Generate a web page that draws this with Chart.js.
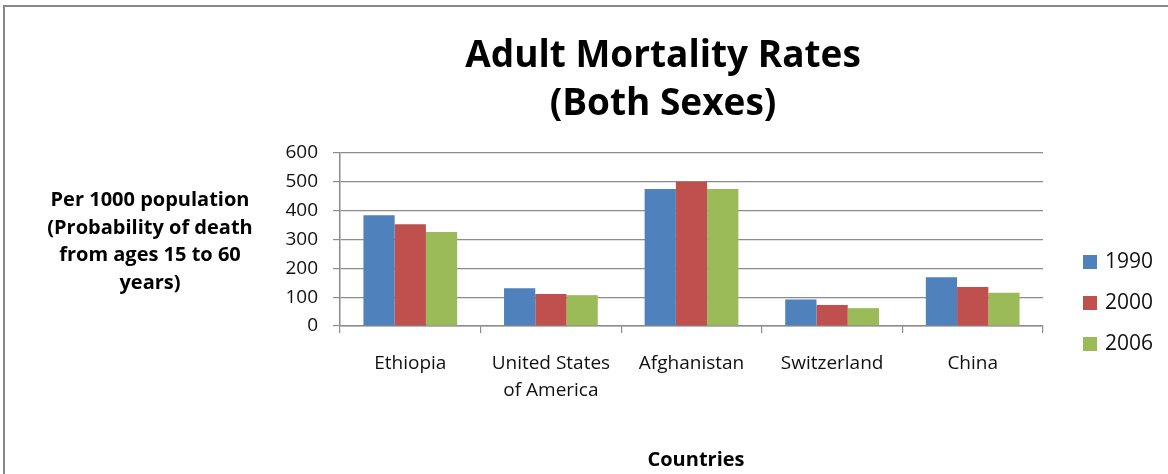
<!DOCTYPE html>
<html>
<head>
<meta charset="utf-8">
<script src="https://cdn.jsdelivr.net/npm/chart.js@4.4.1/dist/chart.umd.min.js"></script>
<style>
  html, body { margin: 0; padding: 0; background: #fff; }
  #wrap { position: relative; width: 1168px; height: 474px; }
</style>
</head>
<body>
<div id="wrap"><canvas id="chart" width="1168" height="474"></canvas></div>
<script>
// values
const countries = ["Ethiopia", ["United States", "of America"], "Afghanistan", "Switzerland", "China"];
const years = ["1990", "2000", "2006"];
const rate1990 = [384, 131, 475, 92, 169];
const rate2000 = [353, 111, 500, 73, 135];
const rate2006 = [326, 107, 475, 62, 115];
const yTickValues = [0, 100, 200, 300, 400, 500, 600];
const barColors = ["#4F81BD", "#C0504D", "#9BBB59"];

const FONT = "'Open Sans', Lato, sans-serif";
const GRID = "#8c8c8c";

// titles, y axis caption and legend are drawn by hand (Excel style layout)
const excelDecor = {
  id: "excelDecor",
  afterDraw(chart) {
    const ctx = chart.ctx;
    ctx.save();
    // outer frame
    ctx.strokeStyle = "#888888";
    ctx.lineWidth = 2;
    ctx.strokeRect(4, 6, 1300, 600);

    ctx.fillStyle = "#000";
    ctx.textAlign = "center";
    ctx.textBaseline = "alphabetic";
    ctx.font = "bold 37px " + FONT;
    ctx.fillText("Adult Mortality Rates", 663, 67);
    ctx.fillText("(Both Sexes)", 663, 115);

    ctx.font = "bold 20px " + FONT;
    const yTitle = ["Per 1000 population", "(Probability of death", "from ages 15 to 60", "years)"];
    yTitle.forEach((t, i) => ctx.fillText(t, 150, 206 + i * 27.5));

    ctx.font = "bold 20px " + FONT;
    ctx.fillText("Countries", 696, 466);

    // legend
    ctx.textAlign = "left";
    ctx.textBaseline = "middle";
    ctx.font = "21px " + FONT;
    chart.data.datasets.forEach((ds, i) => {
      const cy = 262 + i * 41;
      ctx.fillStyle = ds.backgroundColor;
      ctx.fillRect(1083, cy - 7, 14, 14);
      ctx.fillStyle = "#111";
      ctx.fillText(ds.label, 1105, cy);
    });
    ctx.restore();
  }
};

const ctx = document.getElementById("chart");
new Chart(ctx, {
  type: "bar",
  data: {
    labels: countries,
    datasets: [
      { label: years[0], data: rate1990, backgroundColor: barColors[0] },
      { label: years[1], data: rate2000, backgroundColor: barColors[1] },
      { label: years[2], data: rate2006, backgroundColor: barColors[2] },
    ],
  },
  options: {
    responsive: false,
    animation: false,
    devicePixelRatio: 1,
    layout: { padding: { left: 270, top: 153, right: 125, bottom: 48 } },
    datasets: { bar: { categoryPercentage: 3 / 4.5, barPercentage: 1.0 } },
    plugins: { legend: { display: false }, tooltip: { enabled: false }, title: { display: false } },
    scales: {
      x: {
        afterFit: (scale) => { scale.height = 100; },
        grid: { offset: true, drawOnChartArea: false, color: GRID, tickLength: 7, lineWidth: 1.2 },
        border: { color: GRID, width: 1.5 },
        ticks: { color: "#111", font: { family: FONT, size: 19, lineHeight: 1.42 }, padding: 17, maxRotation: 0, autoSkip: false },
      },
      y: {
        min: 0,
        max: 600,
        afterFit: (scale) => { scale.width = 70; },
        afterBuildTicks: (scale) => { scale.ticks = yTickValues.map((v) => ({ value: v })); },
        grid: { color: GRID, tickLength: 7, lineWidth: 1.2 },
        border: { color: GRID, width: 1.5 },
        ticks: { color: "#111", font: { family: FONT, size: 19 }, padding: 15 },
      },
    },
  },
  plugins: [excelDecor],
});
</script>
</body>
</html>
